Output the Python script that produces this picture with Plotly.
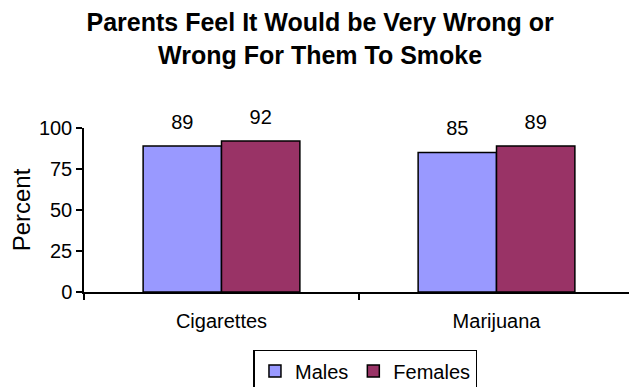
import plotly.graph_objects as go

categories = ["Cigarettes", "Marijuana"]
males = [89, 85]
females = [92, 89]

FONT = "Liberation Sans, Arial, sans-serif"

fig = go.Figure()
fig.add_bar(x=categories, y=males, name="Males", offsetgroup="m",
            marker=dict(color="#9999FF", line=dict(color="black", width=1.5)))
fig.add_bar(x=categories, y=females, name="Females", offsetgroup="f",
            marker=dict(color="#993366", line=dict(color="black", width=1.5)))
# value labels above bars
fig.add_scatter(x=categories, y=males, mode="markers+text", text=[str(v) for v in males],
                textposition="top center", offsetgroup="m", showlegend=False, hoverinfo="skip",
                marker=dict(size=18, opacity=0), textfont=dict(size=20, color="black"), cliponaxis=False)
fig.add_scatter(x=categories, y=females, mode="markers+text", text=[str(v) for v in females],
                textposition="top center", offsetgroup="f", showlegend=False, hoverinfo="skip",
                marker=dict(size=18, opacity=0), textfont=dict(size=20, color="black"), cliponaxis=False)

# the page body has an 8px margin, so the figure is laid out 8px up/left of the target
fig.update_layout(
    width=637, height=387,
    margin=dict(l=76, r=11, t=120, b=103),
    paper_bgcolor="white", plot_bgcolor="white",
    font=dict(family=FONT, size=20, color="black"),
    title=dict(text="<b>Parents Feel It Would be Very Wrong or<br>Wrong For Them To Smoke</b>",
               x=0.49, xref="container", xanchor="center", yref="container", y=0.94, yanchor="top",
               font=dict(size=25)),
    barmode="group", scattermode="group",
    bargap=0.43, bargroupgap=0,
    showlegend=True,
    legend=dict(orientation="h", xref="container", yref="container",
                x=0.737, xanchor="right", y=0.1163, yanchor="top",
                bordercolor="black", borderwidth=1.5, font=dict(size=20),
                itemwidth=30, tracegroupgap=0),
)
fig.update_xaxes(showline=True, linecolor="black", linewidth=1.5, ticks="outside", tickson="boundaries",
                 ticklen=6, tickcolor="black", tickwidth=1.5, showgrid=False, automargin=False,
                 ticklabelstandoff=10)
fig.update_yaxes(range=[0, 100], dtick=25, showline=True, linecolor="black", linewidth=1.5,
                 ticks="outside", ticklen=6, tickcolor="black", tickwidth=1.5, showgrid=False,
                 zeroline=False, automargin=False, title=dict(text="Percent", standoff=6))

fig.write_html("out.html")
